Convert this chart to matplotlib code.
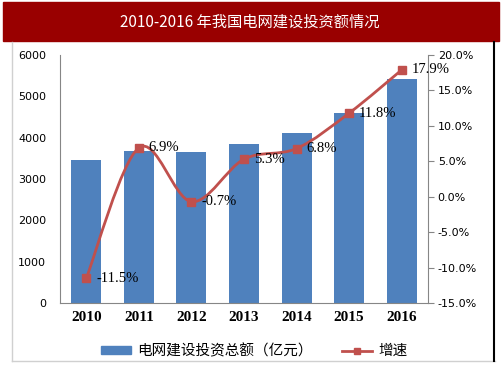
import matplotlib
matplotlib.use("Agg")
import matplotlib.pyplot as plt
import numpy as np
from matplotlib.path import Path
from matplotlib.patches import PathPatch, Rectangle, Patch
from matplotlib.lines import Line2D

years = ["2010", "2011", "2012", "2013", "2014", "2015", "2016"]
invest = [3448, 3687, 3661, 3856, 4118, 4603, 5426]      # 亿元
growth = [-11.5, 6.9, -0.7, 5.3, 6.8, 11.8, 17.9]         # %

title = "2010-2016 年我国电网建设投资额情况"
bar_label = "电网建设投资总额（亿元）"
line_label = "增速"

BLUE = "#4F81BD"
RED = "#C0504D"
CJK = ["Noto Sans CJK SC", "DejaVu Sans"]
SERIF = "Liberation Serif"

W, H = 503, 378


def smooth_path(x, y, sx):
    # Catmull-Rom style bezier through the points, like Excel's smoothed line
    x = np.asarray(x, float)
    y = np.asarray(y, float)
    xs = x * sx
    n = len(x)
    verts = [(x[0], y[0])]
    codes = [Path.MOVETO]
    for i in range(n - 1):
        p0 = (xs[max(i - 1, 0)], y[max(i - 1, 0)])
        p1 = (xs[i], y[i])
        p2 = (xs[i + 1], y[i + 1])
        p3 = (xs[min(i + 2, n - 1)], y[min(i + 2, n - 1)])
        c1 = (p1[0] + (p2[0] - p0[0]) / 6, p1[1] + (p2[1] - p0[1]) / 6)
        c2 = (p2[0] - (p3[0] - p1[0]) / 6, p2[1] - (p3[1] - p1[1]) / 6)
        verts += [(c1[0] / sx, c1[1]), (c2[0] / sx, c2[1]), (p2[0] / sx, p2[1])]
        codes += [Path.CURVE4] * 3
    return Path(verts, codes)


fig = plt.figure(figsize=(W / 100, H / 100), dpi=100)

# title bar
fig.patches.append(Rectangle((3 / W, 1 - 41 / H), 496 / W, 39 / H,
                             transform=fig.transFigure, color="#990000", zorder=0))
fig.text(250 / W, 1 - 22 / H, title, color="white", fontsize=11,
         family=CJK, ha="center", va="center")

# outer frame
fig.lines.append(Line2D([12 / W, 12 / W], [1 - 42 / H, 1 - 361 / H],
                        transform=fig.transFigure, color="#D0D0D0", lw=1))
fig.lines.append(Line2D([12 / W, 495 / W], [1 - 361 / H, 1 - 361 / H],
                        transform=fig.transFigure, color="#D0D0D0", lw=1))
fig.lines.append(Line2D([494 / W, 494 / W], [1 - 42 / H, 1 - 361 / H],
                        transform=fig.transFigure, color="black", lw=1.5))

ax = fig.add_axes([60 / W, 1 - 303 / H, 368 / W, 248 / H])
x = np.arange(len(years))
ax.bar(x, invest, width=0.57, color=BLUE, zorder=2)
ax.set_xlim(-0.5, len(years) - 0.5)
ax.set_ylim(0, 6000)
ax.set_yticks(range(0, 6001, 1000))
ax.set_xticks(x)
ax.set_xticklabels(years, family=SERIF, fontweight="bold", fontsize=11)
ax.tick_params(axis="y", length=0, labelsize=8, pad=10)
ax.tick_params(axis="x", length=0, pad=6)
for s in ["top", "right"]:
    ax.spines[s].set_visible(False)
ax.spines["left"].set_color("#868686")
ax.spines["bottom"].set_color("#868686")

ax2 = ax.twinx()
ax2.set_ylim(-15, 20)
ax2.set_yticks(np.arange(-15, 20.1, 5))
ax2.set_yticklabels([f"{v:.1f}%" for v in np.arange(-15, 20.1, 5)])
ax2.tick_params(axis="y", direction="out", length=4, color="#868686",
                labelsize=8, pad=3)
for s in ["top", "left", "bottom"]:
    ax2.spines[s].set_visible(False)
ax2.spines["right"].set_color("#868686")

# x scale so the smoothing is done in roughly pixel-isotropic space
sx = (368 / 7) / (248 / 35)
ax2.add_patch(PathPatch(smooth_path(x, growth, sx), fill=False,
                        edgecolor=RED, lw=2, zorder=3))
ax2.plot(x, growth, ls="none", marker="s", ms=5.5, color=RED, zorder=4)
for xi, g in zip(x, growth):
    ax2.annotate(f"{g}%", (xi, g), xytext=(7, 0), textcoords="offset points",
                 va="center", ha="left", fontsize=10.5, family=SERIF,
                 annotation_clip=False, zorder=5)

handles = [Patch(color=BLUE),
           Line2D([], [], color=RED, lw=2, marker="s", ms=4.5)]
fig.legend(handles, [bar_label, line_label], loc="center",
           bbox_to_anchor=(254 / W, 1 - 351 / H), ncol=2, frameon=False,
           prop={"family": CJK, "size": 10.5}, handlelength=2.1,
           handleheight=0.5, handletextpad=0.4, columnspacing=2.0)

fig.savefig("out.png", dpi=100)
